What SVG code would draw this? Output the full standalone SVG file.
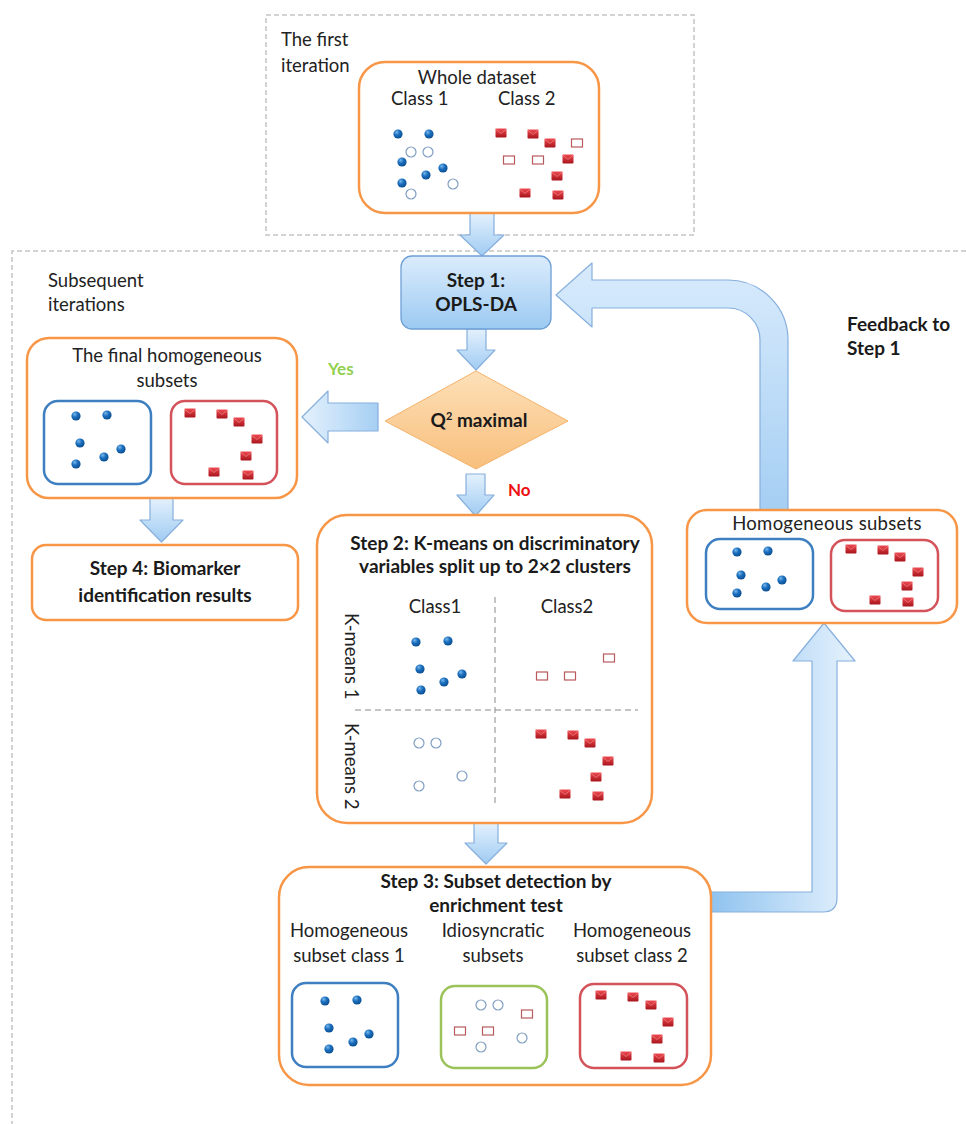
<svg xmlns="http://www.w3.org/2000/svg" xmlns:xlink="http://www.w3.org/1999/xlink" width="966" height="1124" viewBox="0 0 966 1124">
<style>
.t{font-family:Lato,"Liberation Sans",sans-serif;font-size:18.5px;fill:#222}
.b{font-family:Lato,"Liberation Sans",sans-serif;font-size:19px;font-weight:bold;fill:#1a1a1a}
.c{text-anchor:middle}
.dash{fill:none;stroke:#c4c4c4;stroke-width:1.5;stroke-dasharray:5 3}
.ob{fill:#fff;stroke:#f79646;stroke-width:2.5}
.bb{fill:#fff;stroke:#3e7fc1;stroke-width:2.5}
.rb{fill:#fff;stroke:#d4525a;stroke-width:2.5}
.gb{fill:#fff;stroke:#9bc35a;stroke-width:2.5}
.arr{stroke:#86afdd;stroke-width:1.2;stroke-linejoin:round}
</style>
<defs>
<radialGradient id="gBlue" cx="0.4" cy="0.35" r="0.7" fx="0.35" fy="0.3">
<stop offset="0" stop-color="#7ab8ec"/><stop offset="0.45" stop-color="#1a6fbf"/><stop offset="1" stop-color="#0a4a8a"/>
</radialGradient>
<linearGradient id="gRed" x1="0" y1="0" x2="0" y2="1">
<stop offset="0" stop-color="#ee4a50"/><stop offset="1" stop-color="#a8141c"/>
</linearGradient>
<linearGradient id="gArrV" x1="0" y1="0" x2="0" y2="1">
<stop offset="0" stop-color="#e4f1fd"/><stop offset="1" stop-color="#9fcbf2"/>
</linearGradient>
<linearGradient id="gArrH" x1="0" y1="0" x2="1" y2="0">
<stop offset="0" stop-color="#e4f1fd"/><stop offset="1" stop-color="#a6cff3"/>
</linearGradient>
<linearGradient id="gFeed" gradientUnits="userSpaceOnUse" x1="0" y1="262" x2="0" y2="513">
<stop offset="0" stop-color="#d9ebfc"/><stop offset="1" stop-color="#a4cef3"/>
</linearGradient>
<linearGradient id="gUp" gradientUnits="userSpaceOnUse" x1="711" y1="0" x2="855" y2="0">
<stop offset="0" stop-color="#8fc3ef"/><stop offset="1" stop-color="#e6f2fd"/>
</linearGradient>
<linearGradient id="gStep1" x1="0" y1="0" x2="0" y2="1">
<stop offset="0" stop-color="#dbecfc"/><stop offset="1" stop-color="#9ccaf2"/>
</linearGradient>
<linearGradient id="gDia" x1="0" y1="0" x2="0" y2="1">
<stop offset="0" stop-color="#fde0b8"/><stop offset="1" stop-color="#f8bf7c"/>
</linearGradient>
<circle id="bd" r="4.6" fill="url(#gBlue)"/>
<g id="rs"><rect x="-5.5" y="-4.5" width="11" height="9" rx="1" fill="url(#gRed)"/><path d="M-5.5,-4 L0,0.5 L5.5,-4" fill="none" stroke="#f28a8a" stroke-width="0.7"/></g>
<circle id="oc" r="5" fill="#fff" stroke="#819fc2" stroke-width="1.2"/>
<rect id="os" x="-5.5" y="-4" width="11" height="8" fill="#fff" stroke="#b85a5e" stroke-width="1.2"/>
</defs>

<rect width="966" height="1124" fill="#fff"/>

<!-- frames -->
<g id="frame-first">
<rect class="dash" x="266" y="15" width="428" height="220"/>
<text class="t" x="281" y="46">The first</text>
<text class="t" x="281" y="72">iteration</text>
</g>
<g id="frame-subsequent">
<path class="dash" d="M966,251 L12,251 L12,1124"/>
<text class="t" x="48" y="287">Subsequent</text>
<text class="t" x="48" y="311">iterations</text>
</g>

<!-- connectors -->
<g id="connectors">
<path class="arr" fill="url(#gArrV)" d="M470,213 L494,213 L494,235 L504,235 L482,256 L460,235 L470,235 Z"/>
<path class="arr" fill="url(#gArrV)" d="M467,329 L486,329 L486,350 L495,350 L476,370 L457,350 L467,350 Z"/>
<path class="arr" fill="url(#gArrV)" d="M466,474 L485,474 L485,495 L494,495 L475.5,516 L457,495 L466,495 Z"/>
<path class="arr" fill="url(#gArrV)" d="M474,823 L498,823 L498,843 L507,843 L486,864 L465,843 L474,843 Z"/>
<path class="arr" fill="url(#gArrV)" d="M150,498 L173,498 L173,520 L183,520 L161.5,542 L140,520 L150,520 Z"/>
<path class="arr" fill="url(#gArrH)" d="M302,417 L328,391 L328,403 L378,403 L378,431 L328,431 L328,443 Z"/>
<path class="arr" fill="url(#gFeed)" d="M556,295 L592,263 L592,280 L728,280 A60,60 0 0 1 788,340 L788,513 L760,513 L760,340 A32,32 0 0 0 728,308 L592,308 L592,327 Z"/>
<path class="arr" fill="url(#gUp)" d="M711,892 L812,892 L812,661 L793,661 L824,623 L855,661 L837,661 L837,898 Q837,912 823,912 L711,912 Z"/>
<text x="328" y="375" style="font-family:Lato,'Liberation Sans',sans-serif;font-size:17px;font-weight:bold;fill:#92d050">Yes</text>
<text x="508" y="496" style="font-family:Lato,'Liberation Sans',sans-serif;font-size:17px;font-weight:bold;fill:#ee1111">No</text>
<text class="b" x="847" y="331">Feedback to</text>
<text class="b" x="847" y="355">Step 1</text>
</g>

<!-- whole dataset -->
<g id="whole-dataset">
<rect class="ob" x="359" y="62" width="240" height="151" rx="26"/>
<text class="t c" x="477" y="84">Whole dataset</text>
<text class="t" x="391" y="105">Class 1</text>
<text class="t" x="498" y="105">Class 2</text>
<use href="#bd" x="398" y="134"/><use href="#bd" x="429" y="134"/><use href="#bd" x="402" y="162"/><use href="#bd" x="443" y="168"/><use href="#bd" x="426" y="175"/><use href="#bd" x="402" y="183"/>
<use href="#oc" x="411" y="152"/><use href="#oc" x="428" y="152"/><use href="#oc" x="453" y="184"/><use href="#oc" x="411" y="194"/>
<use href="#rs" x="501" y="133"/><use href="#rs" x="533" y="134"/><use href="#rs" x="550" y="143"/><use href="#rs" x="568" y="159"/><use href="#rs" x="557" y="176"/><use href="#rs" x="525" y="193"/><use href="#rs" x="558" y="195"/>
<use href="#os" x="577" y="143"/><use href="#os" x="509" y="160"/><use href="#os" x="538" y="160"/>
</g>

<!-- step 1 -->
<g id="step1">
<rect x="401" y="256" width="150" height="73" rx="11" fill="url(#gStep1)" stroke="#6e9fd6" stroke-width="1.3"/>
<text class="b c" x="476" y="287">Step 1:</text>
<text class="b c" x="476" y="311">OPLS-DA</text>
</g>

<!-- decision -->
<g id="decision">
<polygon points="476,371 568,421 476,469 385,421" fill="url(#gDia)" stroke="#f5b26b" stroke-width="1"/>
<text class="b c" x="479" y="427" font-size="17.5">Q<tspan font-size="11" dy="-7">2</tspan><tspan dy="7"> maximal</tspan></text>
</g>

<!-- final subsets -->
<g id="final-subsets">
<rect class="ob" x="27" y="338" width="270" height="160" rx="22"/>
<text class="t c" x="167" y="362">The final homogeneous</text>
<text class="t c" x="167" y="387">subsets</text>
<rect class="bb" x="44" y="401" width="107" height="83" rx="14"/>
<rect class="rb" x="171" y="401" width="106" height="83" rx="14"/>
<use href="#bd" x="76" y="416"/><use href="#bd" x="107" y="415"/><use href="#bd" x="80" y="443"/><use href="#bd" x="121" y="449"/><use href="#bd" x="104" y="457"/><use href="#bd" x="76" y="464"/>
<use href="#rs" x="190" y="413"/><use href="#rs" x="222" y="414"/><use href="#rs" x="239" y="422"/><use href="#rs" x="257" y="439"/><use href="#rs" x="246" y="456"/><use href="#rs" x="214" y="472"/><use href="#rs" x="248" y="475"/>
</g>

<!-- step 4 -->
<g id="step4">
<rect class="ob" x="32" y="545" width="266" height="75" rx="14"/>
<text class="b c" x="165" y="575">Step 4: Biomarker</text>
<text class="b c" x="165" y="602">identification results</text>
</g>

<!-- step 2 -->
<g id="step2">
<rect class="ob" x="317" y="515" width="335" height="308" rx="30"/>
<text class="b c" x="495" y="550">Step 2: K-means on discriminatory</text>
<text class="b c" x="495" y="573">variables split up to 2×2 clusters</text>
<text class="t c" x="435" y="613">Class1</text>
<text class="t c" x="567" y="613">Class2</text>
<line x1="495" y1="597" x2="495" y2="803" stroke="#8a8a8a" stroke-width="1" stroke-dasharray="6 4"/>
<line x1="355" y1="710" x2="638" y2="710" stroke="#8a8a8a" stroke-width="1" stroke-dasharray="6 4"/>
<text class="t" transform="translate(345,613) rotate(90)">K-means  1</text>
<text class="t" transform="translate(345,723) rotate(90)">K-means  2</text>
<use href="#bd" x="416" y="642"/><use href="#bd" x="448" y="641"/><use href="#bd" x="420" y="669"/><use href="#bd" x="462" y="674"/><use href="#bd" x="444" y="682"/><use href="#bd" x="421" y="690"/>
<use href="#os" x="609" y="658"/><use href="#os" x="542" y="676"/><use href="#os" x="570" y="676"/>
<use href="#oc" x="419" y="743"/><use href="#oc" x="436" y="743"/><use href="#oc" x="462" y="776"/><use href="#oc" x="419" y="786"/>
<use href="#rs" x="541" y="734"/><use href="#rs" x="573" y="735"/><use href="#rs" x="590" y="743"/><use href="#rs" x="608" y="761"/><use href="#rs" x="596" y="777"/><use href="#rs" x="565" y="794"/><use href="#rs" x="598" y="796"/>
</g>

<!-- step 3 -->
<g id="step3">
<rect class="ob" x="279" y="867" width="432" height="218" rx="30"/>
<text class="b c" x="496" y="888">Step 3: Subset detection by</text>
<text class="b c" x="496" y="912">enrichment test</text>
<text class="t c" x="349" y="937">Homogeneous</text>
<text class="t c" x="349" y="962">subset class 1</text>
<text class="t c" x="493" y="937">Idiosyncratic</text>
<text class="t c" x="493" y="962">subsets</text>
<text class="t c" x="632" y="937">Homogeneous</text>
<text class="t c" x="632" y="962">subset class 2</text>
<rect class="bb" x="292" y="983" width="106" height="84" rx="14"/>
<rect class="gb" x="441" y="986" width="106" height="82" rx="14"/>
<rect class="rb" x="580" y="984" width="107" height="84" rx="14"/>
<use href="#bd" x="325" y="1001"/><use href="#bd" x="357" y="1000"/><use href="#bd" x="329" y="1028"/><use href="#bd" x="369" y="1034"/><use href="#bd" x="353" y="1042"/><use href="#bd" x="329" y="1049"/>
<use href="#oc" x="481" y="1005"/><use href="#oc" x="498" y="1005"/><use href="#oc" x="522" y="1038"/><use href="#oc" x="481" y="1047"/>
<use href="#os" x="527" y="1014"/><use href="#os" x="460" y="1031"/><use href="#os" x="488" y="1031"/>
<use href="#rs" x="601" y="995"/><use href="#rs" x="633" y="997"/><use href="#rs" x="651" y="1005"/><use href="#rs" x="668" y="1022"/><use href="#rs" x="657" y="1039"/><use href="#rs" x="626" y="1056"/><use href="#rs" x="659" y="1058"/>
</g>

<!-- homogeneous subsets -->
<g id="homogeneous-subsets">
<rect class="ob" x="687" y="510" width="270" height="113" rx="20"/>
<text class="t c" x="827" y="530" letter-spacing="0.3">Homogeneous  subsets</text>
<rect class="bb" x="706" y="539" width="107" height="70" rx="14"/>
<rect class="rb" x="831" y="540" width="107" height="71" rx="14"/>
<use href="#bd" x="737" y="552"/><use href="#bd" x="768" y="551"/><use href="#bd" x="741" y="575"/><use href="#bd" x="782" y="580"/><use href="#bd" x="766" y="587"/><use href="#bd" x="737" y="593"/>
<use href="#rs" x="851" y="549"/><use href="#rs" x="883" y="550"/><use href="#rs" x="900" y="557"/><use href="#rs" x="918" y="572"/><use href="#rs" x="907" y="586"/><use href="#rs" x="875" y="600"/><use href="#rs" x="908" y="602"/>
</g>
</svg>
